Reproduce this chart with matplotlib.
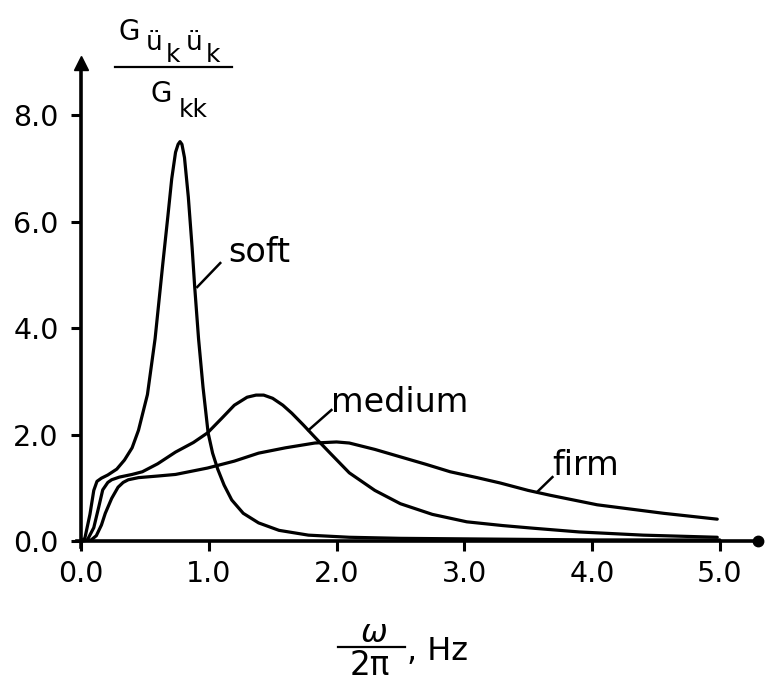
import matplotlib
matplotlib.use("Agg")
import matplotlib.pyplot as plt
from matplotlib.lines import Line2D

plt.rcParams['font.family'] = ['DejaVu Sans']

# ---- data ----
soft_x = [0.0, 0.03, 0.07, 0.10, 0.125, 0.16, 0.21, 0.28, 0.34, 0.40, 0.45, 0.52, 0.58, 0.64,
          0.68, 0.71, 0.74, 0.76, 0.775, 0.79, 0.81, 0.84, 0.87, 0.89, 0.92, 0.955, 0.995, 1.03,
          1.07, 1.12, 1.18, 1.27, 1.39, 1.55, 1.78, 2.1, 2.5, 3.0, 3.5, 4.0, 4.5, 5.0]
soft_y = [0.0, 0.05, 0.5, 0.95, 1.12, 1.18, 1.24, 1.35, 1.52, 1.75, 2.08, 2.75, 3.8, 5.2,
          6.1, 6.8, 7.3, 7.45, 7.5, 7.45, 7.2, 6.46, 5.5, 4.77, 3.8, 2.89, 2.03, 1.65,
          1.35, 1.05, 0.77, 0.52, 0.34, 0.2, 0.11, 0.07, 0.05, 0.04, 0.03, 0.02, 0.02, 0.02]

medium_x = [0.0, 0.05, 0.10, 0.14, 0.17, 0.21, 0.24, 0.30, 0.40, 0.48, 0.60, 0.74, 0.88, 0.99,
            1.10, 1.20, 1.30, 1.37, 1.43, 1.50, 1.58, 1.65, 1.74, 1.83, 1.95, 2.1, 2.3, 2.5,
            2.75, 3.02, 3.3, 3.54, 3.9, 4.4, 4.98]
medium_y = [0.0, 0.02, 0.25, 0.65, 0.96, 1.1, 1.15, 1.2, 1.25, 1.30, 1.45, 1.67, 1.85, 2.03,
            2.3, 2.55, 2.7, 2.74, 2.74, 2.68, 2.55, 2.40, 2.18, 1.95, 1.65, 1.28, 0.95, 0.7,
            0.5, 0.36, 0.29, 0.24, 0.17, 0.11, 0.07]

firm_x = [0.0, 0.08, 0.12, 0.16, 0.19, 0.24, 0.29, 0.33, 0.37, 0.45, 0.6, 0.74, 0.99, 1.2,
          1.39, 1.6, 1.83, 2.0, 2.1, 2.3, 2.5, 2.7, 2.89, 3.1, 3.28, 3.5, 3.67, 4.04, 4.3,
          4.56, 4.98]
firm_y = [0.0, 0.02, 0.1, 0.3, 0.52, 0.8, 1.01, 1.1, 1.15, 1.19, 1.22, 1.25, 1.37, 1.5,
          1.65, 1.75, 1.84, 1.86, 1.84, 1.72, 1.58, 1.44, 1.30, 1.19, 1.09, 0.95, 0.86, 0.68,
          0.6, 0.52, 0.41]

x_ticks = [0.0, 1.0, 2.0, 3.0, 4.0, 5.0]
x_tick_labels = ['0.0', '1.0', '2.0', '3.0', '4.0', '5.0']
y_ticks = [0.0, 2.0, 4.0, 6.0, 8.0]
y_tick_labels = ['0.0', '2.0', '4.0', '6.0', '8.0']

labels = ['soft', 'medium', 'firm']
label_pos = [(1.15, 5.24), (1.96, 2.42), (3.69, 1.24)]
leader_from = [(1.09, 5.22), (1.96, 2.46), (3.69, 1.20)]
leader_to = [(0.91, 4.77), (1.78, 2.08), (3.57, 0.92)]

W, H = 768, 685


def px(x, y):
    return (x / W, 1 - y / H)


# ---- figure ----
fig = plt.figure(figsize=(7.68, 6.85), dpi=100)
ax = fig.add_axes([81 / W, 144 / H, 0.890, 0.7074])
ax.set_xlim(0, 5.35)
ax.set_ylim(0, 9.1)

lw = 2.3
for xs, ys in [(soft_x, soft_y), (medium_x, medium_y), (firm_x, firm_y)]:
    ax.plot(xs, ys, color='black', lw=lw, solid_capstyle='round', solid_joinstyle='round',
            clip_on=False)

for lab, (tx, ty), (fx, fy), (ex, ey) in zip(labels, label_pos, leader_from, leader_to):
    ax.text(tx, ty, lab, fontsize=24, va='baseline', ha='left')
    ax.plot([fx, ex], [fy, ey], color='black', lw=1.8)

for s in ['top', 'right', 'left', 'bottom']:
    ax.spines[s].set_visible(False)

# axes with arrows
ax.plot([0, 0], [-0.12, 8.9], color='black', lw=2.6, clip_on=False)
ax.plot([0], [8.98], marker='^', color='black', markersize=10, clip_on=False)
ax.plot([-0.03, 5.27], [0, 0], color='black', lw=2.6, clip_on=False)
ax.plot([5.3], [0], marker='o', color='black', markersize=7.5, clip_on=False)

ax.set_xticks(x_ticks)
ax.set_xticklabels(x_tick_labels)
ax.set_yticks(y_ticks)
ax.set_yticklabels(y_tick_labels)
ax.tick_params(axis='both', direction='out', length=7, width=2.2, labelsize=20.5)
ax.tick_params(axis='x', pad=7)
ax.tick_params(axis='y', pad=9)

# ---- y label: G_{ü_k ü_k} / G_kk ----
fig.text(*px(118, 40), 'G', fontsize=20, ha='left', va='baseline')
fig.text(*px(146, 50), 'ü', fontsize=19, ha='left', va='baseline')
fig.text(*px(166, 62), 'k', fontsize=18, ha='left', va='baseline')
fig.text(*px(186, 50), 'ü', fontsize=19, ha='left', va='baseline')
fig.text(*px(206, 62), 'k', fontsize=18, ha='left', va='baseline')
fig.add_artist(Line2D([115 / W, 232 / W], [1 - 67 / H, 1 - 67 / H], color='black', lw=1.6))
fig.text(*px(151, 102), 'G', fontsize=20, ha='left', va='baseline')
fig.text(*px(179, 117), 'kk', fontsize=18, ha='left', va='baseline')

# ---- x label: omega / 2pi , Hz ----
fig.text(*px(374, 642), 'ω', fontsize=23, ha='center', va='baseline', style='italic')
fig.add_artist(Line2D([338 / W, 405 / W], [1 - 647 / H, 1 - 647 / H], color='black', lw=1.6))
fig.text(*px(370, 675), '2π', fontsize=23.5, ha='center', va='baseline')
fig.text(*px(407, 660), ', Hz', fontsize=23, ha='left', va='baseline')

fig.savefig('out.png', dpi=100)
